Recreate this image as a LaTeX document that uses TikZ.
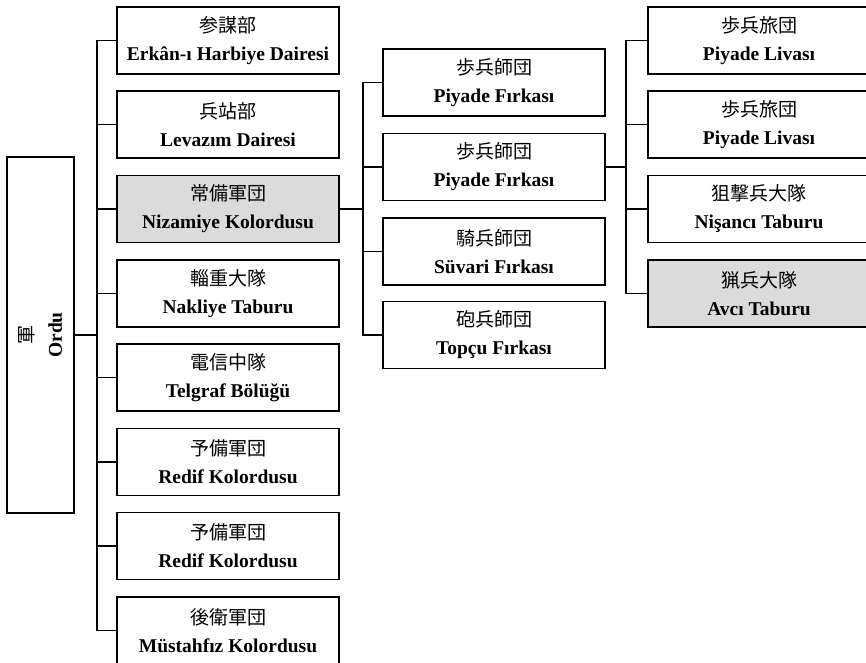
\documentclass[tikz,border=0pt]{standalone}
\usepackage{fontspec}
\setmainfont{Liberation Serif}
\newfontfamily\cjk{Noto Sans CJK JP}
\newcommand{\kanji}[1]{{\cjk\mdseries\fontsize{19}{28}\selectfont #1}}
\begin{document}
\begin{tikzpicture}[x=1pt,y=-1pt,line width=1.8pt,
  unit/.style={draw,minimum width=222pt,minimum height=67pt,inner sep=0pt,align=center,
    font=\fontsize{19.5}{28}\selectfont\bfseries},
  hl/.style={unit,fill=black!14}]
\useasboundingbox (0,0) rectangle (866,662);

\node[unit,minimum width=356pt,rotate=90] (ordu) at (40.5,335) {\kanji{軍}\\Ordu};

\node[unit] (erkan) at (228,40.5) {\kanji{参謀部}\\Erkân-ı Harbiye Dairesi};
\node[unit] (levazim) at (228,124.5) {\kanji{兵站部}\\Levazım Dairesi};
\node[hl] (nizamiye) at (228,209) {\kanji{常備軍団}\\Nizamiye Kolordusu};
\node[unit] (nakliye) at (228,293.5) {\kanji{輜重大隊}\\Nakliye Taburu};
\node[unit] (telgraf) at (228,377.5) {\kanji{電信中隊}\\Telgraf Bölüğü};
\node[unit] (redif1) at (228,462) {\kanji{予備軍団}\\Redif Kolordusu};
\node[unit] (redif2) at (228,546) {\kanji{予備軍団}\\Redif Kolordusu};
\node[unit] (mustahfiz) at (228,630.5) {\kanji{後衛軍団}\\Müstahfız Kolordusu};

\node[unit] (firka1) at (494,82.5) {\kanji{歩兵師団}\\Piyade Fırkası};
\node[unit] (firka2) at (494,167) {\kanji{歩兵師団}\\Piyade Fırkası};
\node[unit] (suvari) at (494,251.5) {\kanji{騎兵師団}\\Süvari Fırkası};
\node[unit] (topcu) at (494,335) {\kanji{砲兵師団}\\Topçu Fırkası};

\node[unit] (liva1) at (759,40.5) {\kanji{歩兵旅団}\\Piyade Livası};
\node[unit] (liva2) at (759,124.5) {\kanji{歩兵旅団}\\Piyade Livası};
\node[unit] (nisanci) at (759,209) {\kanji{狙撃兵大隊}\\Nişancı Taburu};
\node[hl] (avci) at (759,293.5) {\kanji{猟兵大隊}\\Avcı Taburu};

% branch points
\coordinate (t1) at (97,335);
\coordinate (t2) at (363,209);
\coordinate (t3) at (626,167);

\draw (ordu.south) -- (t1);
\draw (t1) |- (erkan.west);
\draw (t1) |- (levazim.west);
\draw (t1) |- (nizamiye.west);
\draw (t1) |- (nakliye.west);
\draw (t1) |- (telgraf.west);
\draw (t1) |- (redif1.west);
\draw (t1) |- (redif2.west);
\draw (t1) |- (mustahfiz.west);

\draw (nizamiye.east) -- (t2);
\draw (t2) |- (firka1.west);
\draw (t2) |- (firka2.west);
\draw (t2) |- (suvari.west);
\draw (t2) |- (topcu.west);

\draw (firka2.east) -- (t3);
\draw (t3) |- (liva1.west);
\draw (t3) |- (liva2.west);
\draw (t3) |- (nisanci.west);
\draw (t3) |- (avci.west);
\end{tikzpicture}
\end{document}
